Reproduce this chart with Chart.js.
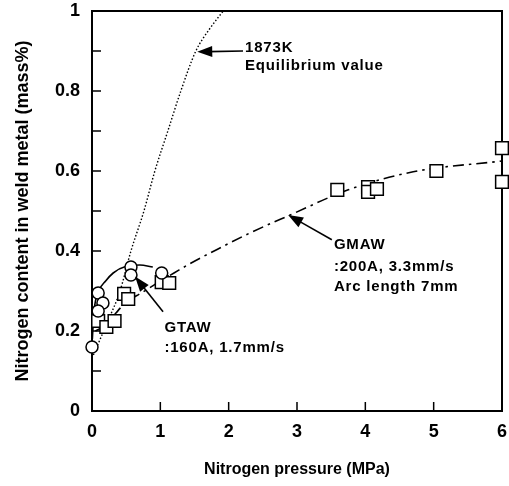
<!DOCTYPE html>
<html lang="en">
<head>
    <meta charset="UTF-8">
    <title>Nitrogen content vs nitrogen pressure</title>
    <script src="https://cdn.jsdelivr.net/npm/chart.js"></script>
    <style>
        html, body { margin: 0; padding: 0; background: #fff; }
        #wrap { width: 509px; height: 486px; }
    </style>
</head>
<body>
    <div id="wrap"><canvas id="chart"></canvas></div>

    <script>
        // measured points, GTAW (circles)
        const gtawP = [0, 0.09, 0.16, 0.09, 0.57, 0.57, 1.02];
        const gtawN = [0.16, 0.295, 0.27, 0.25, 0.36, 0.34, 0.345];

        // measured points, GMAW (squares)
        const gmawP = [0.09, 0.21, 0.33, 0.47, 0.53, 1.02, 1.13, 3.59, 4.04, 4.04, 4.17, 5.04, 6.0, 6.0];
        const gmawN = [0.225, 0.21, 0.225, 0.293, 0.28, 0.322, 0.32, 0.553, 0.56, 0.548, 0.555, 0.60, 0.657, 0.573];

        // fitted curves
        const gtawLineP = [0.005, 0.03, 0.1, 0.2, 0.31, 0.5, 0.7, 0.89];
        const gtawLineN = [0.18, 0.25, 0.3, 0.325, 0.345, 0.362, 0.365, 0.36];

        const gmawLineP = [0.05, 0.2, 0.35, 0.5, 0.65, 0.8, 1.0, 1.2, 1.43, 1.9, 2.31, 2.9, 3.75, 4.7, 6.0];
        const gmawLineN = [0.2, 0.215, 0.245, 0.272, 0.288, 0.303, 0.325, 0.345, 0.368, 0.41, 0.445, 0.49, 0.553, 0.598, 0.625];

        // 1873K equilibrium value (dotted)
        const eqP = [0.02, 0.22, 0.41, 0.57, 0.76, 0.92, 1.11, 1.3, 1.52, 1.72, 1.92];
        const eqN = [0.14, 0.22, 0.30, 0.40, 0.50, 0.60, 0.70, 0.80, 0.90, 0.955, 1.0];

        const xTicks = [0, 1, 2, 3, 4, 5, 6];
        const yTicks = [0, 0.2, 0.4, 0.6, 0.8, 1];

        const FONT = '"Liberation Sans", Arial, sans-serif';

        // text notes with arrows (data units)
        const notes = [
            { lines: ['1873K', 'Equilibrium value'], x: 2.24, y: [0.907, 0.862], from: [2.21, 0.9], to: [1.54, 0.898] },
            { lines: ['GMAW', ':200A, 3.3mm/s', 'Arc length 7mm'], x: 3.54, y: [0.415, 0.36, 0.31], from: [3.51, 0.428], to: [2.87, 0.49] },
            { lines: ['GTAW', ':160A, 1.7mm/s'], x: 1.06, y: [0.208, 0.157], from: [1.04, 0.248], to: [0.63, 0.336] }
        ];

        function pts(xs, ys) {
            return xs.map((x, i) => ({ x: x, y: ys[i] }));
        }

        function arrow(ctx, x1, y1, x2, y2) {
            const a = Math.atan2(y2 - y1, x2 - x1);
            const len = 15, w = 5.5;
            ctx.beginPath();
            ctx.moveTo(x1, y1);
            ctx.lineTo(x2 - Math.cos(a) * len * 0.8, y2 - Math.sin(a) * len * 0.8);
            ctx.stroke();
            ctx.beginPath();
            ctx.moveTo(x2, y2);
            ctx.lineTo(x2 - Math.cos(a) * len - Math.sin(a) * w, y2 - Math.sin(a) * len + Math.cos(a) * w);
            ctx.lineTo(x2 - Math.cos(a) * len + Math.sin(a) * w, y2 - Math.sin(a) * len - Math.cos(a) * w);
            ctx.closePath();
            ctx.fill();
        }

        const framePlugin = {
            id: 'frame',
            beforeDatasetsDraw(chart) {
                const ctx = chart.ctx;
                const a = chart.chartArea;
                const xs = chart.scales.x, ys = chart.scales.y;
                ctx.save();
                ctx.strokeStyle = '#000';
                ctx.lineWidth = 2;
                ctx.strokeRect(a.left, a.top, a.right - a.left, a.bottom - a.top);
                ctx.lineWidth = 1.5;
                ctx.beginPath();
                // inward ticks on the left, every 0.1
                for (let i = 1; i < 10; i++) {
                    const y = ys.getPixelForValue(i / 10);
                    ctx.moveTo(a.left, y);
                    ctx.lineTo(a.left + 9, y);
                }
                // inward ticks on the bottom
                for (let i = 1; i < 6; i++) {
                    const x = xs.getPixelForValue(i);
                    ctx.moveTo(x, a.bottom);
                    ctx.lineTo(x, a.bottom - 9);
                }
                ctx.stroke();
                ctx.restore();
            },
            afterDraw(chart) {
                const ctx = chart.ctx;
                const xs = chart.scales.x, ys = chart.scales.y;
                ctx.save();
                ctx.fillStyle = '#000';
                ctx.strokeStyle = '#000';
                ctx.lineWidth = 1.6;
                ctx.font = 'bold 15px ' + FONT;
                if ('letterSpacing' in ctx) ctx.letterSpacing = '0.8px';
                ctx.textBaseline = 'middle';
                ctx.textAlign = 'left';
                notes.forEach(n => {
                    n.lines.forEach((t, i) => {
                        ctx.fillText(t, xs.getPixelForValue(n.x), ys.getPixelForValue(n.y[i]));
                    });
                    arrow(ctx,
                        xs.getPixelForValue(n.from[0]), ys.getPixelForValue(n.from[1]),
                        xs.getPixelForValue(n.to[0]), ys.getPixelForValue(n.to[1]));
                });
                ctx.restore();
            }
        };

        new Chart(document.getElementById('chart'), {
            type: 'scatter',
            data: {
                datasets: [
                    {
                        label: 'GTAW',
                        data: pts(gtawP, gtawN),
                        pointStyle: 'circle',
                        pointRadius: 6,
                        backgroundColor: '#fff',
                        borderColor: '#000',
                        pointBorderWidth: 1.5,
                        showLine: false,
                        clip: false
                    },
                    {
                        label: 'GMAW',
                        data: pts(gmawP, gmawN),
                        pointStyle: 'rect',
                        pointRadius: 9,
                        backgroundColor: '#fff',
                        borderColor: '#000',
                        pointBorderWidth: 1.5,
                        showLine: false,
                        clip: false
                    },
                    {
                        label: 'GTAW fit',
                        data: pts(gtawLineP, gtawLineN),
                        showLine: true,
                        pointRadius: 0,
                        borderColor: '#000',
                        borderWidth: 1.6,
                        cubicInterpolationMode: 'monotone'
                    },
                    {
                        label: 'GMAW fit',
                        data: pts(gmawLineP, gmawLineN),
                        showLine: true,
                        pointRadius: 0,
                        borderColor: '#000',
                        borderWidth: 1.6,
                        borderDash: [11, 5, 2.5, 5],
                        cubicInterpolationMode: 'monotone'
                    },
                    {
                        label: '1873K equilibrium',
                        data: pts(eqP, eqN),
                        showLine: true,
                        pointRadius: 0,
                        borderColor: '#000',
                        borderWidth: 1.4,
                        borderDash: [1.5, 2],
                        cubicInterpolationMode: 'monotone'
                    }
                ]
            },
            options: {
                responsive: true,
                maintainAspectRatio: false,
                animation: false,
                events: [],
                layout: { autoPadding: false, padding: { left: 4, right: 0, top: 0, bottom: 7 } },
                plugins: {
                    legend: { display: false },
                    tooltip: { enabled: false }
                },
                scales: {
                    x: {
                        type: 'linear',
                        min: 0,
                        max: 6,
                        afterFit: s => {
                            s.height = 68;
                            s.paddingRight = 7;
                            s.paddingLeft = 0;
                        },
                        afterBuildTicks: s => { s.ticks = xTicks.map(v => ({ value: v })); },
                        grid: { display: false, drawTicks: false },
                        border: { display: false },
                        ticks: {
                            padding: 10,
                            color: '#000',
                            font: { family: FONT, size: 18, weight: 'bold' }
                        },
                        title: {
                            display: true,
                            text: 'Nitrogen pressure (MPa)',
                            color: '#000',
                            padding: { top: 8, bottom: 0 },
                            font: { family: FONT, size: 16, weight: 'bold' }
                        }
                    },
                    y: {
                        type: 'linear',
                        min: 0,
                        max: 1,
                        afterFit: s => {
                            s.width = 88;
                            s.paddingTop = 11;
                            s.paddingBottom = 0;
                        },
                        afterBuildTicks: s => { s.ticks = yTicks.map(v => ({ value: v })); },
                        grid: { display: false, drawTicks: false },
                        border: { display: false },
                        ticks: {
                            padding: 12,
                            color: '#000',
                            font: { family: FONT, size: 18, weight: 'bold' },
                            callback: v => String(+v.toFixed(1))
                        },
                        title: {
                            display: true,
                            text: 'Nitrogen content in weld metal (mass%)',
                            color: '#000',
                            padding: { top: 8, bottom: 0 },
                            font: { family: FONT, size: 18, weight: 'bold' }
                        }
                    }
                }
            },
            plugins: [framePlugin]
        });
    </script>
</body>
</html>
